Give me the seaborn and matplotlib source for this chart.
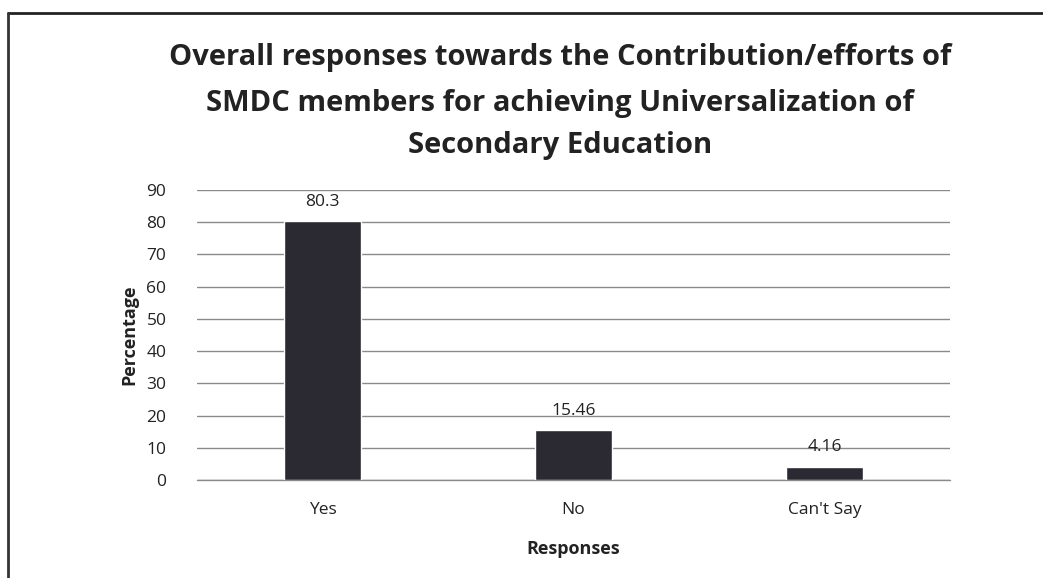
import matplotlib
matplotlib.use("Agg")
import matplotlib.pyplot as plt
import seaborn as sns
import pandas as pd
from matplotlib.lines import Line2D

categories = ["Yes", "No", "Can't Say"]
values = [80.3, 15.46, 4.16]
value_labels = ["80.3", "15.46", "4.16"]
yticks = [0, 10, 20, 30, 40, 50, 60, 70, 80, 90]

sns.set_theme(style="white")
plt.rcParams['font.family'] = ['Open Sans', 'DejaVu Sans']

df = pd.DataFrame({"Responses": categories, "Percentage": values})

fig = plt.figure(figsize=(10.43, 5.78), dpi=100)
fig.patch.set_facecolor("white")
ax = fig.add_axes([197/1043, 1-480/578, 753/1043, 290/578])

sns.barplot(data=df, x="Responses", y="Percentage", color="#2b2a33",
            width=0.31, ax=ax, zorder=3, saturation=1)

ax.set_ylim(0, 90)
ax.set_xlim(-0.5, 2.5)
ax.set_yticks(yticks)
ax.set_yticklabels([str(t) for t in yticks], fontsize=12.5, color="#222222")
ax.tick_params(axis="x", labelsize=12.5, colors="#222222", length=0, pad=16)
ax.tick_params(axis="y", length=0, pad=22)
ax.yaxis.grid(True, color="#8a8a8a", linewidth=1.0, zorder=0)
ax.axhline(0, color="#8a8a8a", linewidth=1.0, zorder=2, clip_on=False)
for s in ax.spines.values():
    s.set_visible(False)

for p, lab in zip(ax.patches, value_labels):
    ax.annotate(lab, (p.get_x() + p.get_width()/2, p.get_height()),
                xytext=(0, 8), textcoords="offset points",
                ha="center", va="bottom", fontsize=12.5, color="#222222")

ax.set_xlabel("Responses", fontsize=13, fontweight="bold", color="#222222", labelpad=16)
ax.set_ylabel("Percentage", fontsize=13, fontweight="bold", color="#222222", labelpad=6)

fig.text(0.537, 1-57/578, "Overall responses towards the Contribution/efforts of",
         ha="center", va="center", fontsize=21, fontweight="bold", color="#222222")
fig.text(0.537, 1-103/578, "SMDC members for achieving Universalization of",
         ha="center", va="center", fontsize=21, fontweight="bold", color="#222222")
fig.text(0.537, 1-146/578, "Secondary Education",
         ha="center", va="center", fontsize=21, fontweight="bold", color="#222222")

# outer frame
fig.add_artist(Line2D([8/1043, 1], [1-13/578, 1-13/578], transform=fig.transFigure,
                      color="#222222", linewidth=2))
fig.add_artist(Line2D([8/1043, 8/1043], [0, 1-13/578], transform=fig.transFigure,
                      color="#333333", linewidth=2))

fig.savefig("out.png", dpi=100)
